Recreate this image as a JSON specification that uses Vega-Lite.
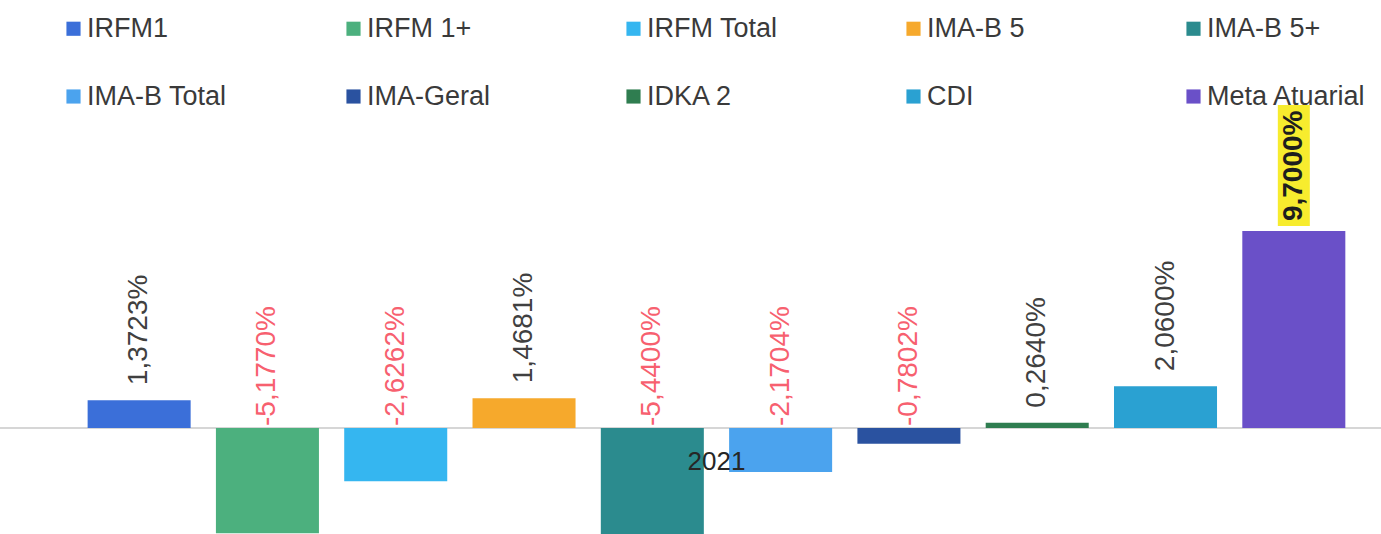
{
  "$schema": "https://vega.github.io/schema/vega-lite/v6.json",
  "width": 1381,
  "height": 534,
  "autosize": {"type": "none"},
  "padding": 0,
  "background": "white",
  "config": {"view": {"stroke": null}, "font": "Liberation Sans"},
  "data": {"values": [
    {"year": "2021", "series": "IRFM1", "value": 1.3723, "label": "1,3723%"},
    {"year": "2021", "series": "IRFM 1+", "value": -5.177, "label": "-5,1770%"},
    {"year": "2021", "series": "IRFM Total", "value": -2.6262, "label": "-2,6262%"},
    {"year": "2021", "series": "IMA-B 5", "value": 1.4681, "label": "1,4681%"},
    {"year": "2021", "series": "IMA-B 5+", "value": -5.44, "label": "-5,4400%"},
    {"year": "2021", "series": "IMA-B Total", "value": -2.1704, "label": "-2,1704%"},
    {"year": "2021", "series": "IMA-Geral", "value": -0.7802, "label": "-0,7802%"},
    {"year": "2021", "series": "IDKA 2", "value": 0.264, "label": "0,2640%"},
    {"year": "2021", "series": "CDI", "value": 2.06, "label": "2,0600%"},
    {"year": "2021", "series": "Meta Atuarial", "value": 9.7, "label": "9,7000%"}
  ]},
  "layer": [
    {
      "data": {"values": [{"year": "2021"}]},
      "mark": {"type": "rule", "color": "#c9c9c9", "strokeWidth": 1.5},
      "encoding": {"y": {"datum": 0, "type": "quantitative", "scale": {"domain": [-5.22, 21.08], "nice": false, "zero": false}, "axis": null}}
    },
    {
      "mark": {"type": "bar"},
      "encoding": {
        "x": {"field": "year", "type": "nominal", "axis": null, "scale": {"paddingInner": 0, "paddingOuter": 0.0382, "align": 0.765}},
        "xOffset": {"field": "series", "type": "nominal", "sort": ["IRFM1", "IRFM 1+", "IRFM Total", "IMA-B 5", "IMA-B 5+", "IMA-B Total", "IMA-Geral", "IDKA 2", "CDI", "Meta Atuarial"], "scale": {"paddingInner": 0.197, "paddingOuter": 0.0985}},
        "y": {"field": "value", "type": "quantitative", "scale": {"domain": [-5.22, 21.08], "nice": false, "zero": false}, "axis": null},
        "color": {
          "field": "series", "type": "nominal",
          "scale": {
            "domain": ["IRFM1", "IRFM 1+", "IRFM Total", "IMA-B 5", "IMA-B 5+", "IMA-B Total", "IMA-Geral", "IDKA 2", "CDI", "Meta Atuarial"],
            "range": ["#3b6fd9", "#4cb07e", "#35b6f0", "#f6a92c", "#2b8b8e", "#4ba3ee", "#2a52a0", "#2f7d50", "#2aa1d2", "#6a50c8"]
          },
          "legend": {
            "title": null, "orient": "none", "legendX": 60, "legendY": 15,
            "direction": "horizontal", "columns": 5, "gridAlign": "all",
            "columnPadding": 93, "rowPadding": 40, "padding": 0,
            "symbolType": "square", "symbolSize": 200, "symbolStrokeWidth": 0, "symbolOpacity": 1,
            "labelFont": "Liberation Sans", "labelFontSize": 27, "labelColor": "#3a3a3a", "labelOffset": 0, "labelLimit": 400
          }
        }
      }
    },
    {
      "transform": [{"filter": "datum.value >= 0 && datum.series != 'Meta Atuarial'"}],
      "mark": {"type": "text", "angle": 270, "align": "left", "baseline": "middle", "dx": 15, "fontSize": 28, "color": "#404040", "font": "Liberation Sans"},
      "encoding": {
        "x": {"field": "year", "type": "nominal"},
        "xOffset": {"field": "series", "type": "nominal", "sort": ["IRFM1", "IRFM 1+", "IRFM Total", "IMA-B 5", "IMA-B 5+", "IMA-B Total", "IMA-Geral", "IDKA 2", "CDI", "Meta Atuarial"]},
        "y": {"field": "value", "type": "quantitative"},
        "text": {"field": "label"}
      }
    },
    {
      "transform": [{"filter": "datum.value < 0"}],
      "mark": {"type": "text", "angle": 270, "align": "left", "baseline": "middle", "dx": 2, "fontSize": 28, "color": "#f7606f", "font": "Liberation Sans"},
      "encoding": {
        "x": {"field": "year", "type": "nominal"},
        "xOffset": {"field": "series", "type": "nominal", "sort": ["IRFM1", "IRFM 1+", "IRFM Total", "IMA-B 5", "IMA-B 5+", "IMA-B Total", "IMA-Geral", "IDKA 2", "CDI", "Meta Atuarial"]},
        "y": {"datum": 0, "type": "quantitative"},
        "text": {"field": "label"}
      }
    },
    {
      "transform": [{"filter": "datum.series == 'Meta Atuarial'"}],
      "mark": {"type": "bar", "color": "#f7ec2e", "size": 32, "yOffset": -126, "y2Offset": -5},
      "encoding": {
        "x": {"field": "year", "type": "nominal"},
        "xOffset": {"field": "series", "type": "nominal", "sort": ["IRFM1", "IRFM 1+", "IRFM Total", "IMA-B 5", "IMA-B 5+", "IMA-B Total", "IMA-Geral", "IDKA 2", "CDI", "Meta Atuarial"]},
        "y": {"field": "value", "type": "quantitative"},
        "y2": {"field": "value"}
      }
    },
    {
      "transform": [{"filter": "datum.series == 'Meta Atuarial'"}],
      "mark": {"type": "text", "angle": 270, "align": "left", "baseline": "middle", "dx": 10, "fontSize": 28, "fontWeight": "bold", "color": "#1e1e1e", "font": "Liberation Sans"},
      "encoding": {
        "x": {"field": "year", "type": "nominal"},
        "xOffset": {"field": "series", "type": "nominal", "sort": ["IRFM1", "IRFM 1+", "IRFM Total", "IMA-B 5", "IMA-B 5+", "IMA-B Total", "IMA-Geral", "IDKA 2", "CDI", "Meta Atuarial"]},
        "y": {"field": "value", "type": "quantitative"},
        "text": {"field": "label"}
      }
    },
    {
      "data": {"values": [{"year": "2021"}]},
      "mark": {"type": "text", "align": "center", "baseline": "middle", "dy": 34, "fontSize": 26, "color": "#262626", "font": "Liberation Sans"},
      "encoding": {
        "x": {"field": "year", "type": "nominal"},
        "y": {"datum": 0, "type": "quantitative"},
        "text": {"field": "year"}
      }
    }
  ]
}
